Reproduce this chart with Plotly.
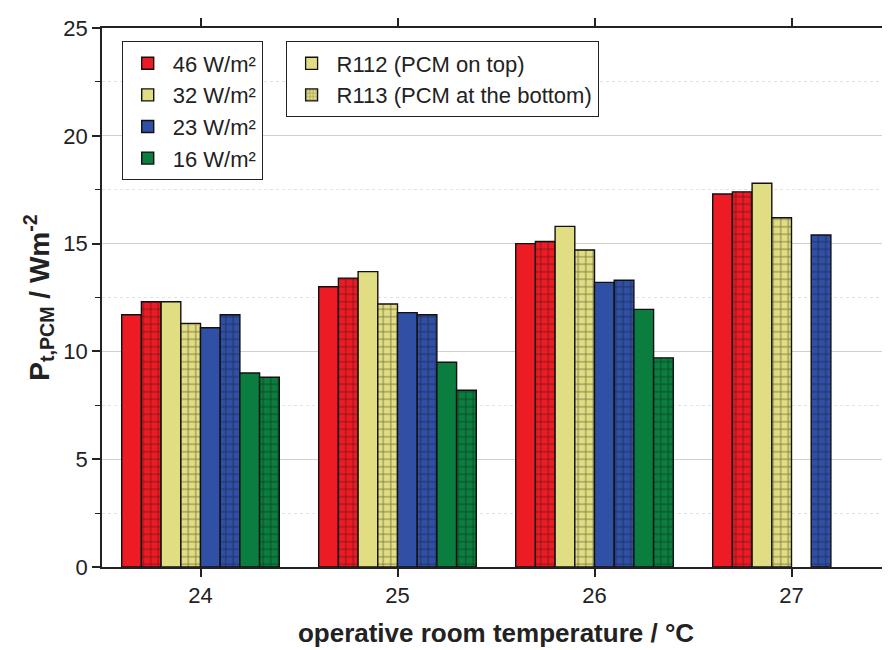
import plotly.graph_objects as go

temps = [24, 25, 26, 27]
tick_labels = ["24", "25", "26", "27"]

# R112 (PCM on top) - solid
r112_46 = [11.7, 13.0, 15.0, 17.3]
r112_32 = [12.3, 13.7, 15.8, 17.8]
r112_23 = [11.1, 11.8, 13.2, None]
r112_16 = [9.0, 9.5, 11.95, None]
# R113 (PCM at the bottom) - hatched
r113_46 = [12.3, 13.4, 15.1, 17.4]
r113_32 = [11.3, 12.2, 14.7, 16.2]
r113_23 = [11.7, 11.7, 13.3, 15.4]
r113_16 = [8.8, 8.2, 9.7, None]

loads = ["46 W/m²", "32 W/m²", "23 W/m²", "16 W/m²"]
colors = ["#ED1C24", "#E1DD82", "#3050A6", "#0B7D3E"]

series = [
    (r112_46, r113_46),
    (r112_32, r113_32),
    (r112_23, r113_23),
    (r112_16, r113_16),
]

FONT = "Liberation Sans, Arial, sans-serif"
bar_w = 0.1
fig = go.Figure()
slot = 0
for i, (solid, hatched) in enumerate(series):
    for j, vals in enumerate((solid, hatched)):
        off = -0.4 + slot * bar_w
        slot += 1
        fig.add_trace(go.Bar(
            x=temps, y=vals, width=bar_w, offset=off,
            marker=dict(
                color=colors[i],
                line=dict(color="#111", width=1.4),
                pattern=dict(shape="+" if j == 1 else "", size=7.5,
                             solidity=0.22, fgcolor="#111",
                             fillmode="overlay"),
            ),
            name=loads[i],
            showlegend=(j == 0),
            legend="legend",
        ))

# legend 2 entries
fig.add_trace(go.Bar(
    x=[None], y=[None], name="R112 (PCM on top)", legend="legend2",
    marker=dict(color=colors[1], line=dict(color="#111", width=1.3)),
))
fig.add_trace(go.Bar(
    x=[None], y=[None], name="R113 (PCM at the bottom)", legend="legend2",
    marker=dict(color=colors[1], line=dict(color="#111", width=1.3),
                pattern=dict(shape="+", size=4, solidity=0.25, fgcolor="#111",
                             fillmode="overlay")),
))

fig.update_layout(
    width=890, height=650,
    margin=dict(l=94, r=8, t=13, b=91),
    plot_bgcolor="white", paper_bgcolor="white",
    barmode="overlay",
    font=dict(family=FONT, size=22, color="#222"),
    xaxis=dict(
        range=[23.5, 27.5],
        tickvals=temps, ticktext=tick_labels,
        tickfont=dict(size=22),
        showline=True, linecolor="#222", linewidth=1.5,
        mirror="ticks", ticks="outside", ticklen=8, tickwidth=1.5,
        tickcolor="#222", showgrid=False, zeroline=False,
        title=dict(text="<b>operative room temperature / °C</b>",
                   font=dict(size=26), standoff=17),
    ),
    yaxis=dict(
        range=[0, 25], tickvals=[0, 5, 10, 15, 20, 25],
        tickfont=dict(size=22),
        showline=True, linecolor="#222", linewidth=1.5, mirror=False,
        ticks="outside", ticklen=8, tickwidth=1.5, tickcolor="#222",
        showgrid=True, gridcolor="#d0d0d0", gridwidth=1,
        zeroline=False,
        minor=dict(tickvals=[2.5, 7.5, 12.5, 17.5, 22.5], ticks="outside",
                   ticklen=5, tickwidth=1.2, tickcolor="#222",
                   showgrid=True, gridcolor="#e2e2e2", griddash="dot"),
        title=dict(text="<b>P<sub>t,PCM</sub> / Wm<sup>-2</sup></b>",
                   font=dict(size=28), standoff=6),
    ),
    legend=dict(
        x=0.025, y=0.975, xanchor="left", yanchor="top",
        bgcolor="white", bordercolor="#222", borderwidth=1,
        font=dict(size=22, family=FONT), tracegroupgap=0,
        itemwidth=40,
    ),
    legend2=dict(
        x=0.233, y=0.975, xanchor="left", yanchor="top",
        bgcolor="white", bordercolor="#222", borderwidth=1,
        font=dict(size=22, family=FONT), itemwidth=40,
    ),
)

fig.write_html("out.html")
